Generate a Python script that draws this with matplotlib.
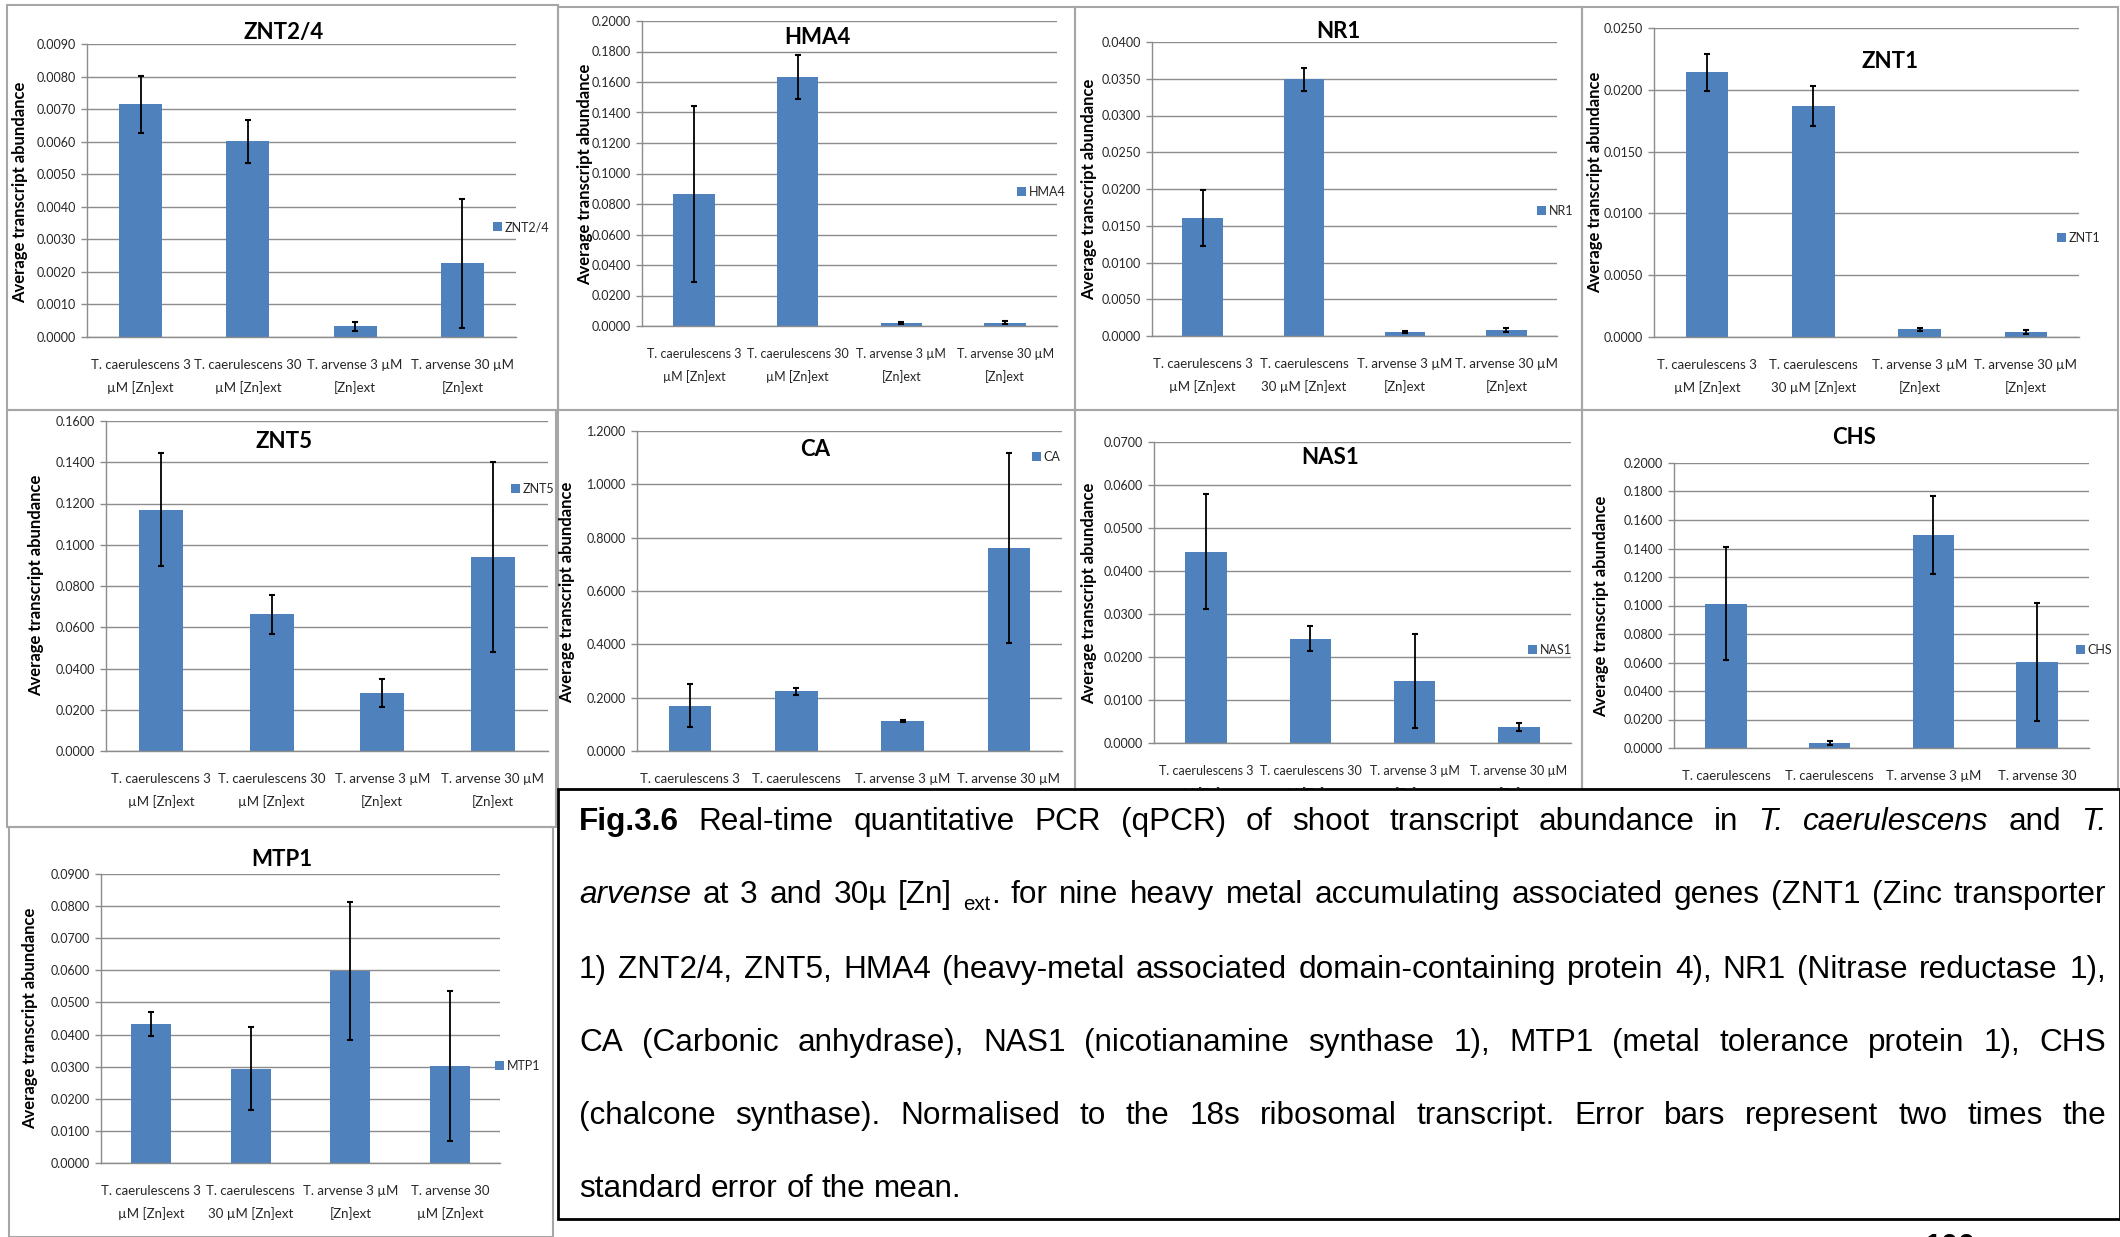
import matplotlib.pyplot as plt
from matplotlib.patches import Rectangle
from matplotlib.ticker import FormatStrFormatter
import numpy as np

W, H = 2120, 1237
DPI = 100

BLUE = "#4F81BD"
GRID = "#8C8C8C"
FRAME = "#A6A6A6"
TEXT = "#262626"

plt.rcParams["font.family"] = ["Lato", "DejaVu Sans"]

# category labels (line breaks differ between the charts)
labels_a = ["T. caerulescens 3\nµM [Zn]ext", "T. caerulescens 30\nµM [Zn]ext",
            "T. arvense 3 µM\n[Zn]ext", "T. arvense 30 µM\n[Zn]ext"]
labels_b = ["T. caerulescens 3\nµM [Zn]ext", "T. caerulescens\n30 µM [Zn]ext",
            "T. arvense 3 µM\n[Zn]ext", "T. arvense 30 µM\n[Zn]ext"]
labels_c = ["T. caerulescens\n3 µM [Zn]ext", "T. caerulescens\n30 µM [Zn]ext",
            "T. arvense 3 µM\n[Zn]ext", "T. arvense 30\nµM [Zn]ext"]
labels_d = ["T. caerulescens 3\nµM [Zn]ext", "T. caerulescens\n30 µM [Zn]ext",
            "T. arvense 3 µM\n[Zn]ext", "T. arvense 30\nµM [Zn]ext"]

# mean transcript abundance and error (2 x SEM) per gene
znt24_mean = [0.00715, 0.00601, 0.00033, 0.00226]
znt24_err = [0.00088, 0.00066, 0.00014, 0.00197]
hma4_mean = [0.0865, 0.1633, 0.0020, 0.0020]
hma4_err = [0.0575, 0.0144, 0.0007, 0.0010]
nr1_mean = [0.0161, 0.0349, 0.00054, 0.0008]
nr1_err = [0.0038, 0.0016, 0.0001, 0.0003]
znt1_mean = [0.0214, 0.0187, 0.00062, 0.00038]
znt1_err = [0.0015, 0.0016, 0.0001, 0.00015]
znt5_mean = [0.1169, 0.0662, 0.0279, 0.0940]
znt5_err = [0.0274, 0.0095, 0.0068, 0.0460]
ca_mean = [0.1700, 0.2235, 0.1124, 0.7617]
ca_err = [0.0800, 0.0145, 0.0020, 0.3570]
nas1_mean = [0.0445, 0.0243, 0.0144, 0.0038]
nas1_err = [0.0133, 0.0029, 0.0109, 0.0009]
chs_mean = [0.1013, 0.0035, 0.1495, 0.0604]
chs_err = [0.0397, 0.0017, 0.0276, 0.0415]
mtp1_mean = [0.0433, 0.0293, 0.0599, 0.0302]
mtp1_err = [0.0038, 0.0129, 0.0215, 0.0233]

# name, data, labels, label size, y max, y step, plot box, frame box,
# title xy, legend xy, y-label xy
panels = [
    ("ZNT2/4", znt24_mean, znt24_err, labels_a, 9.5, 0.009, 0.001,
     (87, 44, 516, 337), (7, 5, 558, 410), (284, 33), (493, 227), (20, 192)),
    ("HMA4", hma4_mean, hma4_err, labels_a, 9, 0.2, 0.02,
     (642, 21, 1057, 326), (558, 7, 1075, 410), (817, 38), (1017, 192), (585, 174)),
    ("NR1", nr1_mean, nr1_err, labels_b, 9.5, 0.04, 0.005,
     (1152, 42, 1557, 336), (1075, 7, 1582, 410), (1338, 31), (1537, 211), (1089, 189)),
    ("ZNT1", znt1_mean, znt1_err, labels_b, 9.5, 0.025, 0.005,
     (1654, 28, 2079, 337), (1582, 7, 2118, 410), (1890, 62), (2057, 238), (1595, 182)),
    ("ZNT5", znt5_mean, znt5_err, labels_a, 9.5, 0.16, 0.02,
     (106, 421, 548, 751), (7, 410, 556, 827), (284, 442), (511, 489), (36, 585)),
    ("CA", ca_mean, ca_err, labels_b, 9.5, 1.2, 0.2,
     (637, 431, 1062, 751), (558, 410, 1075, 790), (815, 450), (1032, 457), (567, 592)),
    ("NAS1", nas1_mean, nas1_err, labels_a, 9, 0.07, 0.01,
     (1154, 442, 1571, 743), (1075, 410, 1582, 790), (1330, 458), (1528, 650), (1089, 593)),
    ("CHS", chs_mean, chs_err, labels_c, 9.5, 0.2, 0.02,
     (1674, 463, 2089, 748), (1582, 410, 2118, 790), (1854, 437), (2076, 650), (1601, 606)),
    ("MTP1", mtp1_mean, mtp1_err, labels_d, 9.5, 0.09, 0.01,
     (101, 874, 500, 1163), (9, 827, 553, 1237), (282, 860), (495, 1066), (30, 1018)),
]


def fx(x):
    return x / W


def fy(y):
    return 1 - y / H


fig = plt.figure(figsize=(W / DPI, H / DPI), dpi=DPI)

for (name, mean, err, labels, lsize, ymax, ystep, box, frame,
     title_xy, legend_xy, ylabel_xy) in panels:
    # chart area border
    fig.add_artist(Rectangle((fx(frame[0]), fy(frame[3])),
                             (frame[2] - frame[0]) / W, (frame[3] - frame[1]) / H,
                             transform=fig.transFigure, fill=False,
                             ec=FRAME, lw=1.5, zorder=0.5))

    ax = fig.add_axes([fx(box[0]), fy(box[3]),
                       (box[2] - box[0]) / W, (box[3] - box[1]) / H])
    x = np.arange(len(mean))
    ax.bar(x, mean, width=0.4, color=BLUE, label=name, zorder=2)
    ax.errorbar(x, mean, yerr=err, fmt="none", ecolor="black",
                elinewidth=1.3, capsize=2.5, capthick=1.5, zorder=3)

    ax.set_xlim(-0.5, len(mean) - 0.5)
    ax.set_ylim(0, ymax)
    ax.set_yticks(np.arange(0, ymax + ystep / 2, ystep))
    ax.yaxis.set_major_formatter(FormatStrFormatter("%.4f"))
    ax.grid(axis="y", color=GRID, lw=1)
    ax.set_axisbelow(True)
    for s in ("top", "right"):
        ax.spines[s].set_visible(False)
    for s in ("left", "bottom"):
        ax.spines[s].set_color(GRID)
        ax.spines[s].set_linewidth(1)

    ax.set_xticks(x, labels, linespacing=1.9)
    ax.tick_params(axis="x", length=0, pad=16, labelsize=lsize, labelcolor=TEXT)
    ax.tick_params(axis="y", length=4, width=1, color=GRID, pad=4,
                   labelsize=9, labelcolor=TEXT)

    fig.text(fx(title_xy[0]), fy(title_xy[1]), name, ha="center", va="center",
             fontsize=16, fontweight="bold", color="black")
    fig.text(fx(ylabel_xy[0]), fy(ylabel_xy[1]), "Average transcript abundance",
             rotation=90, ha="center", va="center", fontsize=12,
             fontweight="bold", color="black")
    ax.legend(loc="center left", bbox_to_anchor=(fx(legend_xy[0]), fy(legend_xy[1])),
              bbox_transform=fig.transFigure, frameon=False,
              handlelength=0.7, handleheight=0.7, handletextpad=0.25,
              borderpad=0, borderaxespad=0,
              prop=dict(size=9), labelcolor=TEXT)

# caption box over the lower right
fig.add_artist(Rectangle((fx(558), fy(1219)), (2120 - 558) / W, (1219 - 789) / H,
                         transform=fig.transFigure, fc="white", ec="black",
                         lw=2, zorder=10))

cap_left, cap_right = 579, 2106
cap_base = [830, 903, 978, 1051, 1124, 1197]
cap_size = 22.7
caption_lines = [
    "**Fig.3.6** Real-time quantitative PCR (qPCR) of shoot transcript abundance in *T.* *caerulescens* and *T.*",
    "*arvense* at 3 and 30µ [Zn] _ext_. for nine heavy metal accumulating associated genes (ZNT1 (Zinc transporter",
    "1) ZNT2/4, ZNT5, HMA4 (heavy-metal associated domain-containing protein 4), NR1 (Nitrase reductase 1),",
    "CA (Carbonic anhydrase), NAS1 (nicotianamine synthase 1), MTP1 (metal tolerance protein 1), CHS",
    "(chalcone synthase). Normalised to the 18s ribosomal transcript. Error bars represent two times the",
    "standard error of the mean.",
]


def word_parts(word):
    if word.startswith("**"):
        return [(word.strip("*"), "bold")]
    if word.startswith("*"):
        return [(word.strip("*"), "italic")]
    if word.startswith("_"):
        sub, rest = word[1:].split("_", 1)
        return [(sub, "sub"), (rest, "normal")]
    return [(word, "normal")]


styles = {
    "normal": dict(fontsize=cap_size),
    "bold": dict(fontsize=cap_size, fontweight="bold"),
    "italic": dict(fontsize=cap_size, fontstyle="italic"),
    "sub": dict(fontsize=cap_size * 0.65),
}

renderer = fig.canvas.get_renderer()
space = 0.278 * cap_size * DPI / 72
for i, (line, base) in enumerate(zip(caption_lines, cap_base)):
    words = []
    for w in line.split():
        parts = []
        for text, style in word_parts(w):
            t = fig.text(0, 0, text, family=["Liberation Sans", "DejaVu Sans"],
                         ha="left", va="baseline", color="black", zorder=11,
                         **styles[style])
            dy = 7 if style == "sub" else 0
            parts.append((t, t.get_window_extent(renderer).width, dy))
        words.append(parts)
    widths = [sum(p[1] for p in parts) for parts in words]
    if i == len(caption_lines) - 1:
        gap = space
    else:
        gap = (cap_right - cap_left - sum(widths)) / (len(words) - 1)
    xpos = cap_left
    for parts, wsum in zip(words, widths):
        for t, w, dy in parts:
            t.set_position((fx(xpos), fy(base + dy)))
            xpos += w
        xpos += gap

# page number at the bottom edge
fig.text(fx(1950), fy(1233), "100", ha="center", va="top", fontsize=22,
         family="Liberation Sans", fontweight="bold")

fig.savefig("out.png", dpi=DPI)
